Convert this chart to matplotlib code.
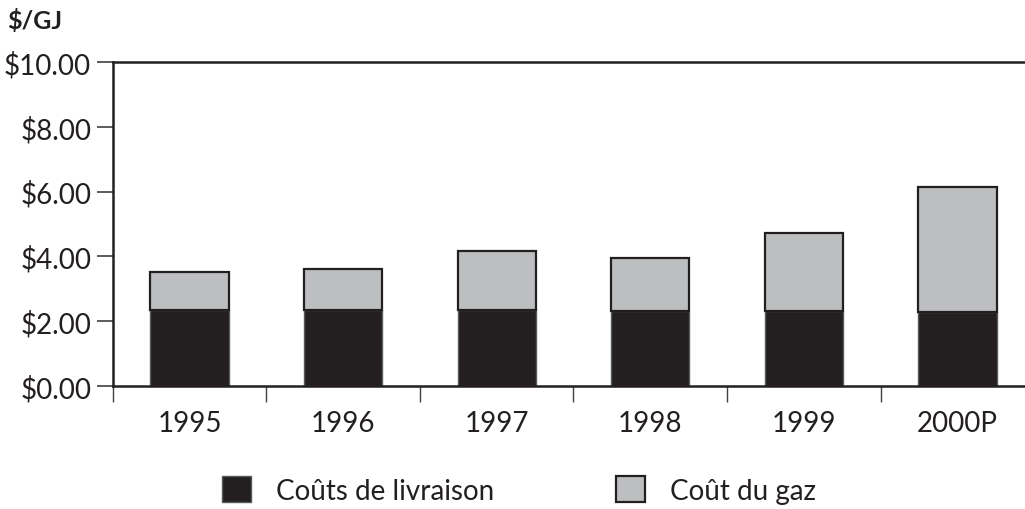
import matplotlib
matplotlib.use("Agg")
import matplotlib.pyplot as plt
from matplotlib.patches import Patch
import numpy as np

plt.rcParams['font.family'] = ['Lato', 'DejaVu Sans']

years = ['1995', '1996', '1997', '1998', '1999', '2000P']
delivery = [2.34, 2.34, 2.34, 2.32, 2.30, 2.29]
total = [3.52, 3.60, 4.18, 3.94, 4.71, 6.13]
gas = [t - d for t, d in zip(total, delivery)]
ytick_vals = [0, 2, 4, 6, 8, 10]
ytick_labels = ['$0.00', '$2.00', '$4.00', '$6.00', '$8.00', '$10.00']
legend_labels = ['Coûts de livraison', 'Coût du gaz']

DARK = '#231f20'
GRAY = '#bcbec0'
TXT = '#231f20'

fig = plt.figure(figsize=(10.25, 5.10), dpi=100)
ax = fig.add_axes([112.7/1025, 123/510, 921.6/1025, 324/510])

x = np.arange(len(years))
ax.bar(x, delivery, width=0.51, color=DARK, edgecolor='#58595b', linewidth=1.0, zorder=2)
ax.bar(x, gas, bottom=delivery, width=0.51, color=GRAY, edgecolor=DARK, linewidth=1.6, zorder=2)

ax.set_xlim(-0.5, 5.5)
ax.set_ylim(0, 10)

for s in ['left', 'bottom', 'top']:
    ax.spines[s].set_color(DARK)
    ax.spines[s].set_linewidth(1.8)
ax.spines['right'].set_visible(False)

ax.set_yticks(ytick_vals)
ax.set_yticklabels(ytick_labels)
ax.tick_params(axis='y', length=11.5, width=1.2, color='#414042', pad=4,
               labelsize=20, labelcolor=TXT)

ax.set_xticks(x)
ax.set_xticklabels(years)
ax.tick_params(axis='x', which='major', length=0, pad=17, labelsize=20, labelcolor=TXT)
ax.set_xticks(np.arange(-0.5, 5.0, 1.0), minor=True)
ax.tick_params(axis='x', which='minor', length=11.5, width=1.0, color='#414042')

fig.text(7/1025, 1 - 21/510, '$/GJ', fontsize=18, fontweight='bold', color=TXT,
         ha='left', va='center')

h1 = Patch(facecolor=DARK, edgecolor='#58595b', linewidth=1.0)
h2 = Patch(facecolor=GRAY, edgecolor=DARK, linewidth=1.6)
kw = dict(frameon=False, handlelength=1.04, handleheight=1.04,
          handletextpad=0.9, borderpad=0, borderaxespad=0, labelcolor=TXT,
          prop={'size': 20})
leg1 = fig.legend([h1], [legend_labels[0]], loc='center left',
                  bbox_to_anchor=(221.7/1025, 1 - 491/510), **kw)
leg2 = fig.legend([h2], [legend_labels[1]], loc='center left',
                  bbox_to_anchor=(616/1025, 1 - 491/510), **kw)

fig.savefig('out.png', dpi=100)
